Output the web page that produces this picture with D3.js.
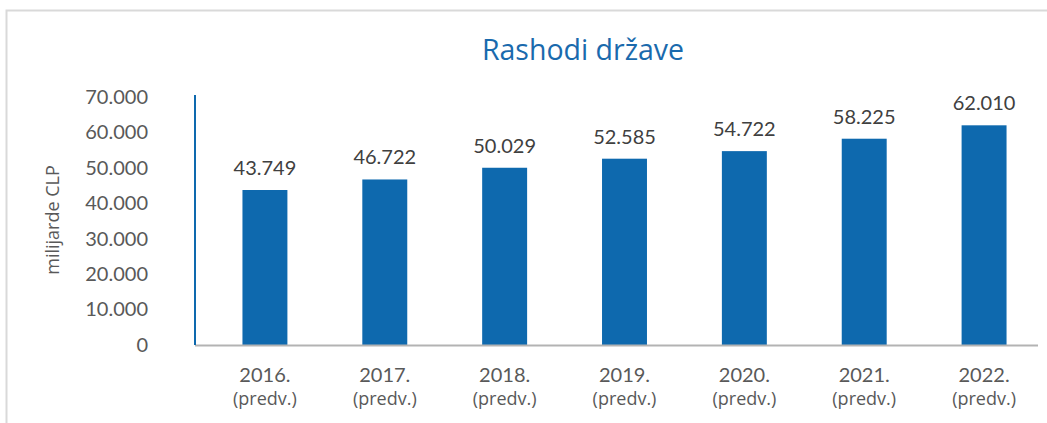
<!DOCTYPE html>
<html>
<head>
<meta charset="utf-8">
<script src="https://cdn.jsdelivr.net/npm/d3@7"></script>
<style>
  body { margin: 0; background: #fff; }
  svg { display: block; font-family: Lato, "Open Sans", sans-serif; }
  .os { font-family: "Open Sans", sans-serif; }
</style>
</head>
<body>
<div id="chart"></div>
<script>
// chart data
const years = ["2016.", "2017.", "2018.", "2019.", "2020.", "2021.", "2022."];
const subLabels = ["(predv.)", "(predv.)", "(predv.)", "(predv.)", "(predv.)", "(predv.)", "(predv.)"];
const expenditure = [43749, 46722, 50029, 52585, 54722, 58225, 62010];
const yTicks = [0, 10000, 20000, 30000, 40000, 50000, 60000, 70000];

const W = 1047, H = 423;
const blue = "#0e69ae";

const svg = d3.select("#chart").append("svg")
    .attr("width", W)
    .attr("height", H);

// outer border (only top and left visible in the crop)
svg.append("path")
    .attr("d", "M6.5," + H + "V10.5H" + W)
    .attr("fill", "none")
    .attr("stroke", "#d9d9d9")
    .attr("stroke-width", 2);

// scales
const x = d3.scaleBand()
    .domain(years)
    .range([205, 1044])
    .paddingInner(0.625)
    .paddingOuter(0.3125);

const y = d3.scaleLinear()
    .domain([0, 70000])
    .range([345, 97]);

const fmt = d3.formatLocale({ decimal: ",", thousands: ".", grouping: [3], currency: ["", ""] }).format(",d");

// title
svg.append("text")
    .attr("class", "os")
    .attr("x", 583)
    .attr("y", 60)
    .attr("text-anchor", "middle")
    .attr("fill", "#1a6aad")
    .style("font-size", "28.5px")
    .text("Rashodi države");

// y axis label
svg.append("text")
    .attr("class", "os")
    .attr("transform", "translate(59,220) rotate(-90)")
    .attr("text-anchor", "middle")
    .attr("fill", "#595959")
    .style("font-size", "18px")
    .text("milijarde CLP");

// y axis tick labels
const yAxis = d3.axisLeft(y)
    .tickValues(yTicks)
    .tickFormat(fmt)
    .tickSize(0)
    .tickPadding(0);

const gy = svg.append("g")
    .attr("transform", "translate(148,0)")
    .call(yAxis);
gy.select(".domain").remove();
gy.selectAll("text")
    .attr("fill", "#595959")
    .style("font-family", "Lato, sans-serif")
    .style("font-size", "20px");

// bars
svg.selectAll(".bar")
    .data(expenditure)
    .enter().append("rect")
    .attr("class", "bar")
    .attr("x", (d, i) => x(years[i]))
    .attr("width", x.bandwidth())
    .attr("y", d => y(d))
    .attr("height", d => y(0) - y(d))
    .attr("fill", blue);

// value labels
svg.selectAll(".val")
    .data(expenditure)
    .enter().append("text")
    .attr("class", "val")
    .attr("x", (d, i) => x(years[i]) + x.bandwidth() / 2)
    .attr("y", d => y(d) - 15)
    .attr("text-anchor", "middle")
    .attr("fill", "#404040")
    .style("font-size", "20px")
    .text(d => fmt(d));

// x axis line (gray) and y axis line (blue)
svg.append("line")
    .attr("x1", 195).attr("x2", 1038)
    .attr("y1", y(0) + 0.5).attr("y2", y(0) + 0.5)
    .attr("stroke", "#b3b3b3")
    .attr("stroke-width", 2);

svg.append("line")
    .attr("x1", 195).attr("x2", 195)
    .attr("y1", 95).attr("y2", y(0))
    .attr("stroke", blue)
    .attr("stroke-width", 2);

// x category labels
const xl = svg.selectAll(".xlab")
    .data(years)
    .enter().append("g")
    .attr("class", "xlab")
    .attr("transform", d => "translate(" + (x(d) + x.bandwidth() / 2) + ",0)");

xl.append("text")
    .attr("y", 382)
    .attr("text-anchor", "middle")
    .attr("fill", "#595959")
    .style("font-size", "20px")
    .text(d => d);

xl.append("text")
    .attr("class", "os")
    .attr("y", 405)
    .attr("text-anchor", "middle")
    .attr("fill", "#595959")
    .style("font-size", "18px")
    .text((d, i) => subLabels[i]);
</script>
</body>
</html>
